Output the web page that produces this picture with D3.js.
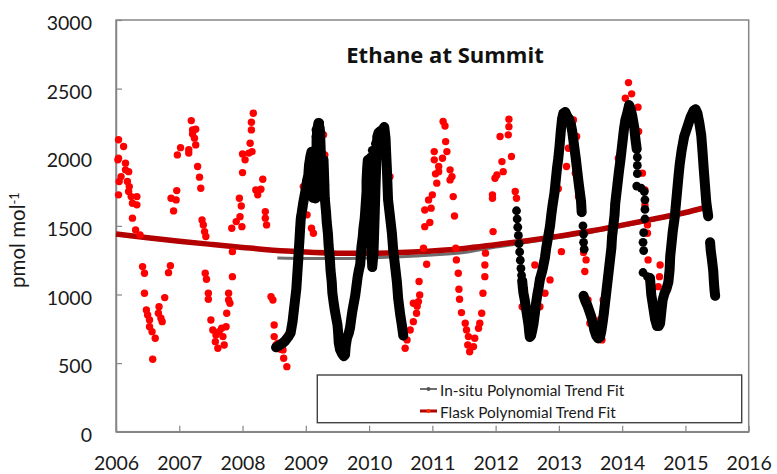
<!DOCTYPE html>
<html>
<head>
<meta charset="utf-8">
<script src="https://cdn.jsdelivr.net/npm/d3@7"></script>
<style>
  body { margin: 0; background: #fff; }
  svg { display: block; font-family: Lato, "Open Sans", sans-serif; }
</style>
</head>
<body>
<svg width="777" height="474"></svg>
<script>
// chart values (decimal year, pmol/mol)

var yTicks = [0, 500, 1000, 1500, 2000, 2500, 3000];
var xTicks = [2006, 2007, 2008, 2009, 2010, 2011, 2012, 2013, 2014, 2015, 2016];

var title = "Ethane at Summit";
var legendNames = ["In-situ Polynomial Trend Fit", "Flask Polynomial Trend Fit"];

// flask samples (red dots)
var flask = [
  [2006.03,1981],[2006.04,2127],[2006.04,1993],[2006.04,1726],[2006.05,1823],[2006.08,1859],[2006.12,2078],
  [2006.15,1957],[2006.15,1908],[2006.18,1823],[2006.20,1895],[2006.21,1786],[2006.20,1750],[2006.24,1713],
  [2006.26,1665],[2006.33,1713],[2006.33,1653],[2006.26,1556],[2006.31,1470],[2006.38,1434],
  [2006.42,1203],[2006.45,1155],[2006.45,1009],[2006.48,887],[2006.50,851],[2006.53,814],[2006.53,765],
  [2006.57,729],[2006.62,681],[2006.58,528],[2006.67,863],[2006.68,911],[2006.71,827],[2006.73,802],
  [2006.77,977],[2006.83,1159],[2006.86,1210],
  [2006.87,1701],[2006.91,1609],[2006.95,1689],[2006.96,1757],[2006.97,2017],[2007.02,2070],[2007.15,2054],
  [2007.15,2030],[2007.19,2267],[2007.21,2199],[2007.21,2170],[2007.24,2139],[2007.26,2204],[2007.26,2090],
  [2007.29,1932],[2007.32,1855],[2007.34,1774],[2007.36,1543],[2007.38,1507],[2007.40,1458],[2007.42,1422],
  [2007.41,1155],[2007.43,1111],[2007.46,1009],[2007.46,965],[2007.50,814],[2007.53,741],[2007.57,656],
  [2007.58,705],[2007.61,608],[2007.63,729],[2007.67,754],[2007.69,693],[2007.71,632],[2007.74,765],
  [2007.75,863],[2007.78,960],[2007.78,1009],[2007.80,936],[2007.84,1130],
  [2007.84,1312],[2007.83,1483],[2007.90,1531],[2007.96,1567],[2007.99,1494],[2007.95,1701],[2007.98,1645],
  [2008.00,1888],[2008.00,2024],[2008.04,1981],[2008.10,2030],[2008.12,2102],[2008.14,2199],[2008.14,2255],
  [2008.17,2321],[2008.15,2041],[2008.21,1762],[2008.24,1726],[2008.29,1767],[2008.32,1840],[2008.36,1604],
  [2008.36,1556],[2008.38,1507],
  [2008.45,984],[2008.48,960],[2008.50,778],[2008.50,693],[2008.53,632],[2008.56,644],[2008.60,600],
  [2008.64,596],[2008.65,535],[2008.70,474],
  [2008.91,1567],[2008.96,1786],[2008.99,1738],[2009.02,1580],[2009.09,1483],[2009.12,1446],[2009.28,2163],
  [2009.30,2017],[2009.99,1713],[2010.33,1859],[2010.33,1616],
  [2010.57,608],[2010.60,669],[2010.65,741],[2010.70,802],[2010.75,863],[2010.70,936],[2010.78,948],
  [2010.79,1094],[2010.76,915],[2010.80,997],
  [2010.86,1337],[2010.88,1494],[2010.88,1616],[2010.91,1220],[2010.94,1689],[2010.96,1524],[2010.98,1629],
  [2011.00,1726],[2011.03,2041],[2011.03,1981],[2011.05,1879],[2011.07,1811],[2011.10,1932],[2011.10,1895],
  [2011.16,1993],[2011.17,2260],[2011.20,2228],[2011.21,2114],[2011.23,2041],[2011.28,1908],[2011.31,1859],
  [2011.28,1835],[2011.33,1713],[2011.35,1572],[2011.37,1337],[2011.38,1252],[2011.41,1155],[2011.42,1038],
  [2011.43,965],[2011.46,868],[2011.52,790],[2011.54,741],[2011.57,693],[2011.56,632],[2011.59,583],
  [2011.65,620],[2011.67,681],[2011.73,754],[2011.75,790],[2011.78,863],[2011.80,1009],[2011.83,1130],
  [2011.83,1215],[2011.84,1301],
  [2011.96,1458],[2011.95,1701],[2011.95,1726],[2011.99,1847],[2012.02,1871],[2012.12,1895],[2012.10,1968],
  [2012.07,2151],[2012.20,2163],[2012.21,2223],[2012.21,2277],[2012.25,2005],[2012.31,1750],[2012.33,1701],
  [2012.42,911],[2012.44,997],[2012.62,1215],[2012.70,911],[2012.78,1009],[2012.86,1106],
  [2012.94,1738],[2012.99,1771],[2013.04,1312],
  [2013.12,1932],[2013.15,2066],[2013.23,2272],[2013.28,2151],[2013.26,1884],[2013.31,1713],[2013.39,1305],
  [2013.43,1252],[2013.41,1167],[2013.46,960],[2013.49,790],[2013.66,820],[2013.68,669],[2013.70,960],
  [2013.94,1993],[2014.05,2430],[2014.10,2544],[2014.15,2462],[2014.25,2365],[2014.26,2187],[2014.32,1884],
  [2014.36,1762],[2014.36,1653],[2014.40,1507],[2014.40,1446],[2014.41,1252],[2014.60,1215],[2014.59,1130],
  [2014.57,1057]
];

// in-situ record (black), dense trace; null = break in the record
var insituTrace = [
  [2008.53,615],[2008.57,625],[2008.62,640],[2008.67,660],[2008.72,690],[2008.76,720],[2008.79,800],
  [2008.81,880],[2008.83,960],[2008.85,1040],[2008.86,1110],[2008.87,1180],[2008.88,1250],[2008.89,1330],
  [2008.90,1400],[2008.91,1480],[2008.92,1550],[2008.94,1610],[2008.96,1670],[2008.98,1720],[2009.00,1770],
  [2009.02,1830],[2009.04,1870],[2009.05,1940],[2009.07,2000],[2009.09,2040],[2009.11,1960],[2009.13,1880],
  [2009.14,1800],[2009.15,1700],[2009.16,1850],[2009.17,2000],[2009.17,2120],[2009.18,2200],[2009.20,2250],
  [2009.22,2210],[2009.23,2120],[2009.24,2000],[2009.25,1880],[2009.26,1800],[2009.27,1900],[2009.28,1980],
  [2009.29,1850],[2009.30,1700],[2009.32,1600],[2009.33,1530],[2009.35,1440],[2009.36,1360],[2009.38,1260],
  [2009.39,1180],[2009.41,1090],[2009.42,1010],[2009.44,940],[2009.46,880],[2009.48,830],[2009.50,780],
  [2009.51,730],[2009.52,650],[2009.54,600],[2009.57,570],[2009.60,550],[2009.62,560],[2009.63,620],
  [2009.65,680],[2009.68,720],[2009.70,760],[2009.72,830],[2009.74,890],[2009.76,940],[2009.78,990],
  [2009.80,1060],[2009.82,1130],[2009.84,1180],[2009.86,1220],[2009.87,1290],[2009.88,1350],[2009.90,1420],
  [2009.91,1480],[2009.93,1550],[2009.94,1610],[2009.95,1680],[2009.96,1750],[2009.96,1830],[2009.97,1920],
  [2009.98,1980],[2010.00,1900],[2010.01,1750],[2010.02,1600],[2010.03,1450],[2010.04,1300],[2010.05,1200],
  [2010.07,1300],[2010.08,1450],[2010.09,1600],[2010.10,1760],[2010.11,1900],[2010.12,2050],[2010.13,2150],
  [2010.15,2180],[2010.18,2190],[2010.21,2200],[2010.24,2220],[2010.26,2140],[2010.27,2030],[2010.28,1930],
  [2010.29,1810],[2010.30,1690],[2010.33,1570],[2010.36,1450],[2010.38,1330],[2010.41,1210],[2010.44,1090],
  [2010.46,970],[2010.49,860],[2010.52,770],[2010.54,700],
  null,
  [2012.42,1100],[2012.43,1050],[2012.44,1010],[2012.46,960],[2012.48,900],[2012.50,840],
  [2012.52,780],[2012.53,730],[2012.54,690],[2012.56,700],[2012.58,740],[2012.60,790],[2012.62,860],
  [2012.64,940],[2012.66,1000],[2012.68,1050],[2012.70,1110],[2012.73,1160],[2012.75,1200],[2012.78,1270],
  [2012.80,1340],[2012.83,1420],[2012.86,1500],[2012.88,1580],[2012.90,1650],[2012.93,1740],[2012.95,1830],
  [2012.97,1920],[2012.99,1990],[2013.01,2080],[2013.03,2190],[2013.05,2280],[2013.07,2320],[2013.10,2330],
  [2013.13,2300],[2013.16,2280],[2013.19,2240],[2013.21,2190],[2013.23,2120],[2013.25,2050],[2013.27,1980],
  [2013.29,1900],[2013.31,1820],[2013.33,1750],[2013.35,1680],[2013.36,1600],
  null,
  [2013.39,990],[2013.42,950],[2013.45,920],[2013.48,880],[2013.51,840],[2013.54,790],[2013.56,740],
  [2013.59,700],[2013.62,680],[2013.65,690],[2013.67,730],[2013.69,790],[2013.71,860],[2013.73,940],
  [2013.75,1020],[2013.77,1100],[2013.79,1180],[2013.81,1260],[2013.83,1340],[2013.84,1420],[2013.86,1500],
  [2013.88,1580],[2013.89,1660],[2013.91,1740],[2013.93,1820],[2013.95,1900],[2013.97,1970],[2013.99,2050],
  [2014.01,2130],[2014.03,2210],[2014.05,2270],[2014.08,2320],[2014.11,2380],[2014.13,2360],[2014.16,2300],
  [2014.19,2220],[2014.21,2130],[2014.23,2060],
  null,
  [2014.44,1120],[2014.45,1060],[2014.46,1000],[2014.48,940],[2014.50,880],[2014.52,820],[2014.55,770],
  [2014.58,770],[2014.60,790],[2014.62,880],[2014.64,960],[2014.67,1010],[2014.70,1040],[2014.73,1090],
  [2014.75,1180],[2014.76,1280],[2014.78,1370],[2014.80,1460],[2014.83,1560],[2014.85,1660],[2014.87,1760],
  [2014.89,1860],[2014.91,1950],[2014.94,2050],[2014.98,2150],[2015.03,2220],[2015.08,2290],[2015.13,2340],
  [2015.16,2350],[2015.19,2320],[2015.22,2250],[2015.25,2160],[2015.27,2040],[2015.29,1910],[2015.31,1790],
  [2015.33,1670],[2015.36,1570],
  null,
  [2015.39,1380],[2015.40,1320],[2015.42,1250],[2015.44,1170],[2015.45,1090],[2015.46,1030],[2015.47,990]
];

// in-situ points standing apart from the trace, and scatter inside the peaks
var insituScatter = [
  [2009.05,1800],[2009.06,1850],[2009.07,1760],[2009.07,1880],[2009.08,1790],[2009.09,1820],[2009.09,1900],
  [2009.10,1740],[2009.10,1950],[2009.11,1700],[2009.11,1850],[2009.12,1780],[2009.12,1880],[2009.13,1760],
  [2009.13,1960],[2009.13,2000],[2009.14,1920],[2009.15,1980],[2009.15,2050],[2009.16,2150],[2009.16,2200],
  [2009.18,2100],[2009.20,2150],[2009.22,1960],[2009.22,2250],[2009.24,1900],[2009.24,2180],[2009.26,1950],
  [2009.30,1800],
  [2009.99,1700],[2009.99,1820],[2010.00,1600],[2010.01,1500],[2010.01,1950],[2010.02,1400],[2010.02,1850],
  [2010.02,2000],[2010.03,1300],[2010.03,1600],[2010.03,1720],[2010.04,1520],[2010.04,1680],[2010.04,1950],
  [2010.05,1350],[2010.05,1450],[2010.05,1800],[2010.05,2050],[2010.06,1450],[2010.06,1550],[2010.06,1650],
  [2010.06,1980],[2010.07,1620],[2010.07,1750],[2010.07,1950],[2010.08,1700],[2010.08,1900],[2010.08,2050],
  [2010.09,1950],[2010.09,2050],[2010.10,2100],[2010.11,2100],
  [2012.33,1610],[2012.34,1550],[2012.35,1490],[2012.36,1430],[2012.37,1370],[2012.38,1310],[2012.39,1250],
  [2012.40,1190],[2012.41,1140],
  [2013.38,1500],[2013.39,1440],[2013.39,1380],[2013.40,1330],
  [2014.24,2000],[2014.24,1940],[2014.24,1880],[2014.23,1790],[2014.30,1775],[2014.35,1750],[2014.36,1690],
  [2014.36,1620],[2014.36,1550],[2014.34,1450],[2014.33,1380],[2014.34,1320],[2014.33,1160],[2014.40,1130]
];

// polynomial trend fits
var insituFit = [
  [2008.55,1265],[2009.0,1262],[2009.5,1262],[2010.0,1266],[2010.5,1274],[2011.0,1287],[2011.5,1305],
  [2012.0,1345],[2012.5,1380],[2013.0,1415],[2013.5,1452],[2014.0,1497],[2014.5,1543],[2015.0,1590],[2015.3,1625]
];
var flaskFit = [
  [2006.0,1440],[2006.5,1413],[2007.0,1388],[2007.5,1365],[2008.0,1343],[2008.7,1316],[2009.5,1301],
  [2010.0,1300],[2010.7,1310],[2011.5,1335],[2012.0,1363],[2012.5,1392],[2013.0,1425],[2013.5,1462],
  [2014.0,1505],[2014.5,1550],[2015.0,1597],[2015.3,1632]
];

var svg = d3.select("svg");

var plotLeft = 116, plotTop = 20, plotRight = 748.7, plotBottom = 431.7;

var x = d3.scaleLinear().domain([2006, 2016]).range([plotLeft, plotRight]);
var y = d3.scaleLinear().domain([0, 3000]).range([plotBottom, plotTop]);

var axisColor = "#868686";

// plot frame
svg.append("rect")
  .attr("x", plotLeft).attr("y", plotTop)
  .attr("width", plotRight - plotLeft).attr("height", plotBottom - plotTop)
  .attr("fill", "none").attr("stroke", axisColor).attr("stroke-width", 1.5);

// axes
var xAxis = svg.append("g")
  .attr("transform", "translate(0," + plotBottom + ")")
  .call(d3.axisBottom(x).tickValues(xTicks).tickFormat(d3.format("d"))
    .tickSize(-6).tickSizeOuter(0));
var yAxis = svg.append("g")
  .attr("transform", "translate(" + plotLeft + ",0)")
  .call(d3.axisLeft(y).tickValues(yTicks).tickFormat(d3.format("d"))
    .tickSize(-6).tickSizeOuter(0).tickPadding(24));

[xAxis, yAxis].forEach(function(g) {
  g.select(".domain").attr("stroke", axisColor).attr("stroke-width", 1.5);
  g.selectAll(".tick line").attr("stroke", axisColor).attr("stroke-width", 1.2);
  g.selectAll(".tick text").attr("fill", "#1a1a1a")
    .style("font-size", "19.5px").style("font-family", "Lato, sans-serif");
});
yAxis.selectAll(".tick text").attr("dy", "0.5em");
xAxis.selectAll(".tick text").attr("y", 38).attr("dy", 0);

// y label
var ylab = svg.append("text")
  .attr("transform", "translate(25,240) rotate(-90)")
  .attr("text-anchor", "middle")
  .attr("fill", "#1a1a1a")
  .style("font-size", "20.5px");
ylab.append("tspan").text("pmol mol");
ylab.append("tspan").attr("dy", "-0.5em").style("font-size", "13px").text("-1");

// title
svg.append("text")
  .attr("x", 445).attr("y", 62.5)
  .attr("text-anchor", "middle")
  .attr("fill", "#111")
  .style("font-family", "'Open Sans', sans-serif")
  .style("font-size", "22px").style("font-weight", "bold")
  .text(title);

// trend fits
var fitLine = d3.line()
  .x(function(d) { return x(d[0]); })
  .y(function(d) { return y(d[1]); })
  .curve(d3.curveMonotoneX);

svg.append("path").datum(insituFit)
  .attr("d", fitLine).attr("fill", "none")
  .attr("stroke", "#6e6e6e").attr("stroke-width", 3);
svg.append("path").datum(flaskFit)
  .attr("d", fitLine).attr("fill", "none")
  .attr("stroke", "#b30000").attr("stroke-width", 5.5);

// flask samples
svg.append("g").selectAll("circle")
  .data(flask)
  .enter().append("circle")
    .attr("cx", function(d) { return x(d[0]); })
    .attr("cy", function(d) { return y(d[1]); })
    .attr("r", 3.7)
    .attr("fill", "#ff0000");

// in-situ record
var traceLine = d3.line()
  .defined(function(d) { return d !== null; })
  .x(function(d) { return x(d[0]); })
  .y(function(d) { return y(d[1]); });

svg.append("path").datum(insituTrace)
  .attr("d", traceLine).attr("fill", "none")
  .attr("stroke", "#000").attr("stroke-width", 10)
  .attr("stroke-linejoin", "round").attr("stroke-linecap", "round");

svg.append("g").selectAll("circle")
  .data(insituTrace.filter(Boolean).concat(insituScatter))
  .enter().append("circle")
    .attr("cx", function(d) { return x(d[0]); })
    .attr("cy", function(d) { return y(d[1]); })
    .attr("r", 4.4)
    .attr("fill", "#000");

// legend
var lg = svg.append("g");
lg.append("rect")
  .attr("x", 317.3).attr("y", 375)
  .attr("width", 424.4).attr("height", 47.7)
  .attr("fill", "#fff").attr("stroke", "#404040").attr("stroke-width", 1.4);

var legendColors = [["#6e6e6e", "#555"], ["#b30000", "#ff3000"]];
var legendWidths = [2, 3];
legendNames.forEach(function(name, i) {
  var ly = 389 + i * 22;
  lg.append("line")
    .attr("x1", 420).attr("x2", 437).attr("y1", ly).attr("y2", ly)
    .attr("stroke", legendColors[i][0]).attr("stroke-width", legendWidths[i]);
  lg.append("circle")
    .attr("cx", 428.5).attr("cy", ly).attr("r", 2)
    .attr("fill", legendColors[i][1]);
  lg.append("text")
    .attr("x", 440).attr("y", ly + 6.5)
    .attr("fill", "#1a1a1a")
    .style("font-size", "15.4px")
    .text(name);
});
</script>
</body>
</html>
